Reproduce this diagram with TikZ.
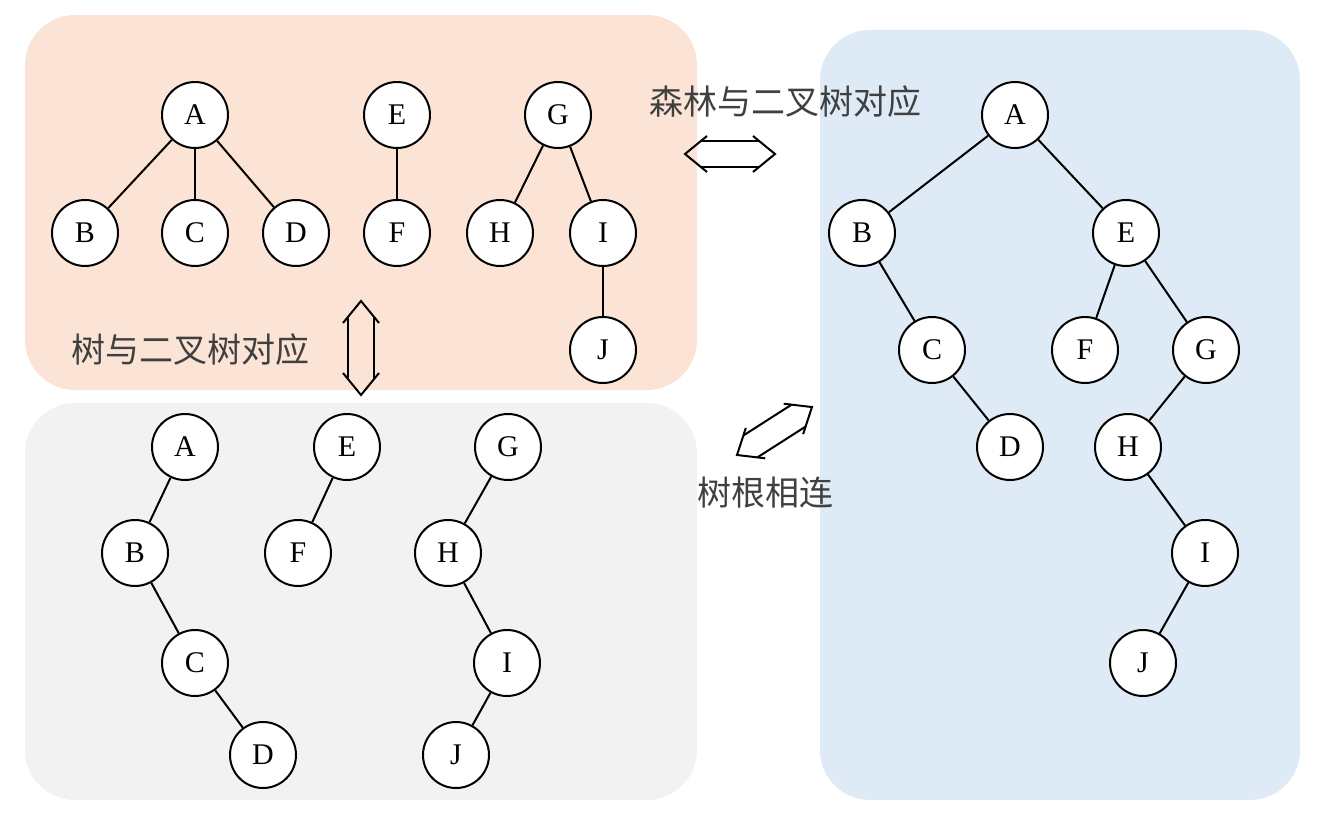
\documentclass[tikz,border=0pt]{standalone}
\usepackage{fontspec}
\setmainfont{Liberation Serif}
\newfontfamily\cjk{Noto Sans CJK SC}

\definecolor{peach}{RGB}{251,228,214}
\definecolor{lightgray}{RGB}{242,242,242}
\definecolor{paleblue}{RGB}{222,234,246}

\tikzset{
  vertex/.style={circle, draw, line width=1pt, fill=white, minimum size=33pt, inner sep=0pt, font=\fontsize{15}{15}\selectfont},
  link/.style={line width=1pt},
  caption/.style={font=\cjk\fontsize{17}{17}\selectfont, text=black!75},
  pics/dblarrow/.style={code={
    \draw[line width=1pt, line join=miter] (22,-18) -- (0,0) -- (22,18);
    \draw[line width=1pt, line join=miter] ({#1-22},-18) -- (#1,0) -- ({#1-22},18);
    \draw[line width=1pt] (16,-13) -- ({#1-16},-13);
    \draw[line width=1pt] (16,13) -- ({#1-16},13);
  }}
}

\begin{document}
\begin{tikzpicture}[x=0.5pt, y=-0.5pt]

\useasboundingbox (0,0) rectangle (1324,824);

% backgrounds
\fill[peach, rounded corners=25pt] (25,15) rectangle (697,390);
\fill[lightgray, rounded corners=25pt] (25,403) rectangle (697,800);
\fill[paleblue, rounded corners=25pt] (820,30) rectangle (1300,800);

% forest
\node[vertex] (tA) at (195,115) {A};
\node[vertex] (tB) at (85,233) {B};
\node[vertex] (tC) at (195,233) {C};
\node[vertex] (tD) at (296,233) {D};
\node[vertex] (tE) at (397,115) {E};
\node[vertex] (tF) at (397,233) {F};
\node[vertex] (tG) at (558,115) {G};
\node[vertex] (tH) at (500,233) {H};
\node[vertex] (tI) at (603,233) {I};
\node[vertex] (tJ) at (603,350) {J};

\draw[link] (tA) -- (tB);
\draw[link] (tA) -- (tC);
\draw[link] (tA) -- (tD);
\draw[link] (tE) -- (tF);
\draw[link] (tG) -- (tH);
\draw[link] (tG) -- (tI);
\draw[link] (tI) -- (tJ);

% each tree as binary tree
\node[vertex] (bA) at (185,447) {A};
\node[vertex] (bB) at (135,553) {B};
\node[vertex] (bC) at (195,663) {C};
\node[vertex] (bD) at (263,755) {D};
\node[vertex] (bE) at (347,447) {E};
\node[vertex] (bF) at (298,553) {F};
\node[vertex] (bG) at (508,447) {G};
\node[vertex] (bH) at (448,553) {H};
\node[vertex] (bI) at (507,663) {I};
\node[vertex] (bJ) at (456,755) {J};

\draw[link] (bA) -- (bB);
\draw[link] (bB) -- (bC);
\draw[link] (bC) -- (bD);
\draw[link] (bE) -- (bF);
\draw[link] (bG) -- (bH);
\draw[link] (bH) -- (bI);
\draw[link] (bI) -- (bJ);

% whole binary tree
\node[vertex] (rA) at (1015,115) {A};
\node[vertex] (rB) at (862,233) {B};
\node[vertex] (rE) at (1126,233) {E};
\node[vertex] (rC) at (932,350) {C};
\node[vertex] (rF) at (1085,350) {F};
\node[vertex] (rG) at (1206,350) {G};
\node[vertex] (rD) at (1010,447) {D};
\node[vertex] (rH) at (1128,447) {H};
\node[vertex] (rI) at (1205,553) {I};
\node[vertex] (rJ) at (1143,663) {J};

\draw[link] (rA) -- (rB);
\draw[link] (rA) -- (rE);
\draw[link] (rB) -- (rC);
\draw[link] (rC) -- (rD);
\draw[link] (rE) -- (rF);
\draw[link] (rE) -- (rG);
\draw[link] (rG) -- (rH);
\draw[link] (rH) -- (rI);
\draw[link] (rI) -- (rJ);

% captions and arrows
\node[caption] (forestcap) at (785,102) {森林与二叉树对应};
\node[caption] (treecap) at (190,350) {树与二叉树对应};
\node[caption] (rootcap) at (765,493) {树根相连};

\coordinate (h1) at (685,154);
\coordinate (v1) at (361,301);
\coordinate (d1) at (737,455);

\pic at (h1) {dblarrow=90};
\pic[rotate=-90] at (v1) {dblarrow=94};
\pic[rotate=32.6] at (d1) {dblarrow=89};

\end{tikzpicture}
\end{document}
